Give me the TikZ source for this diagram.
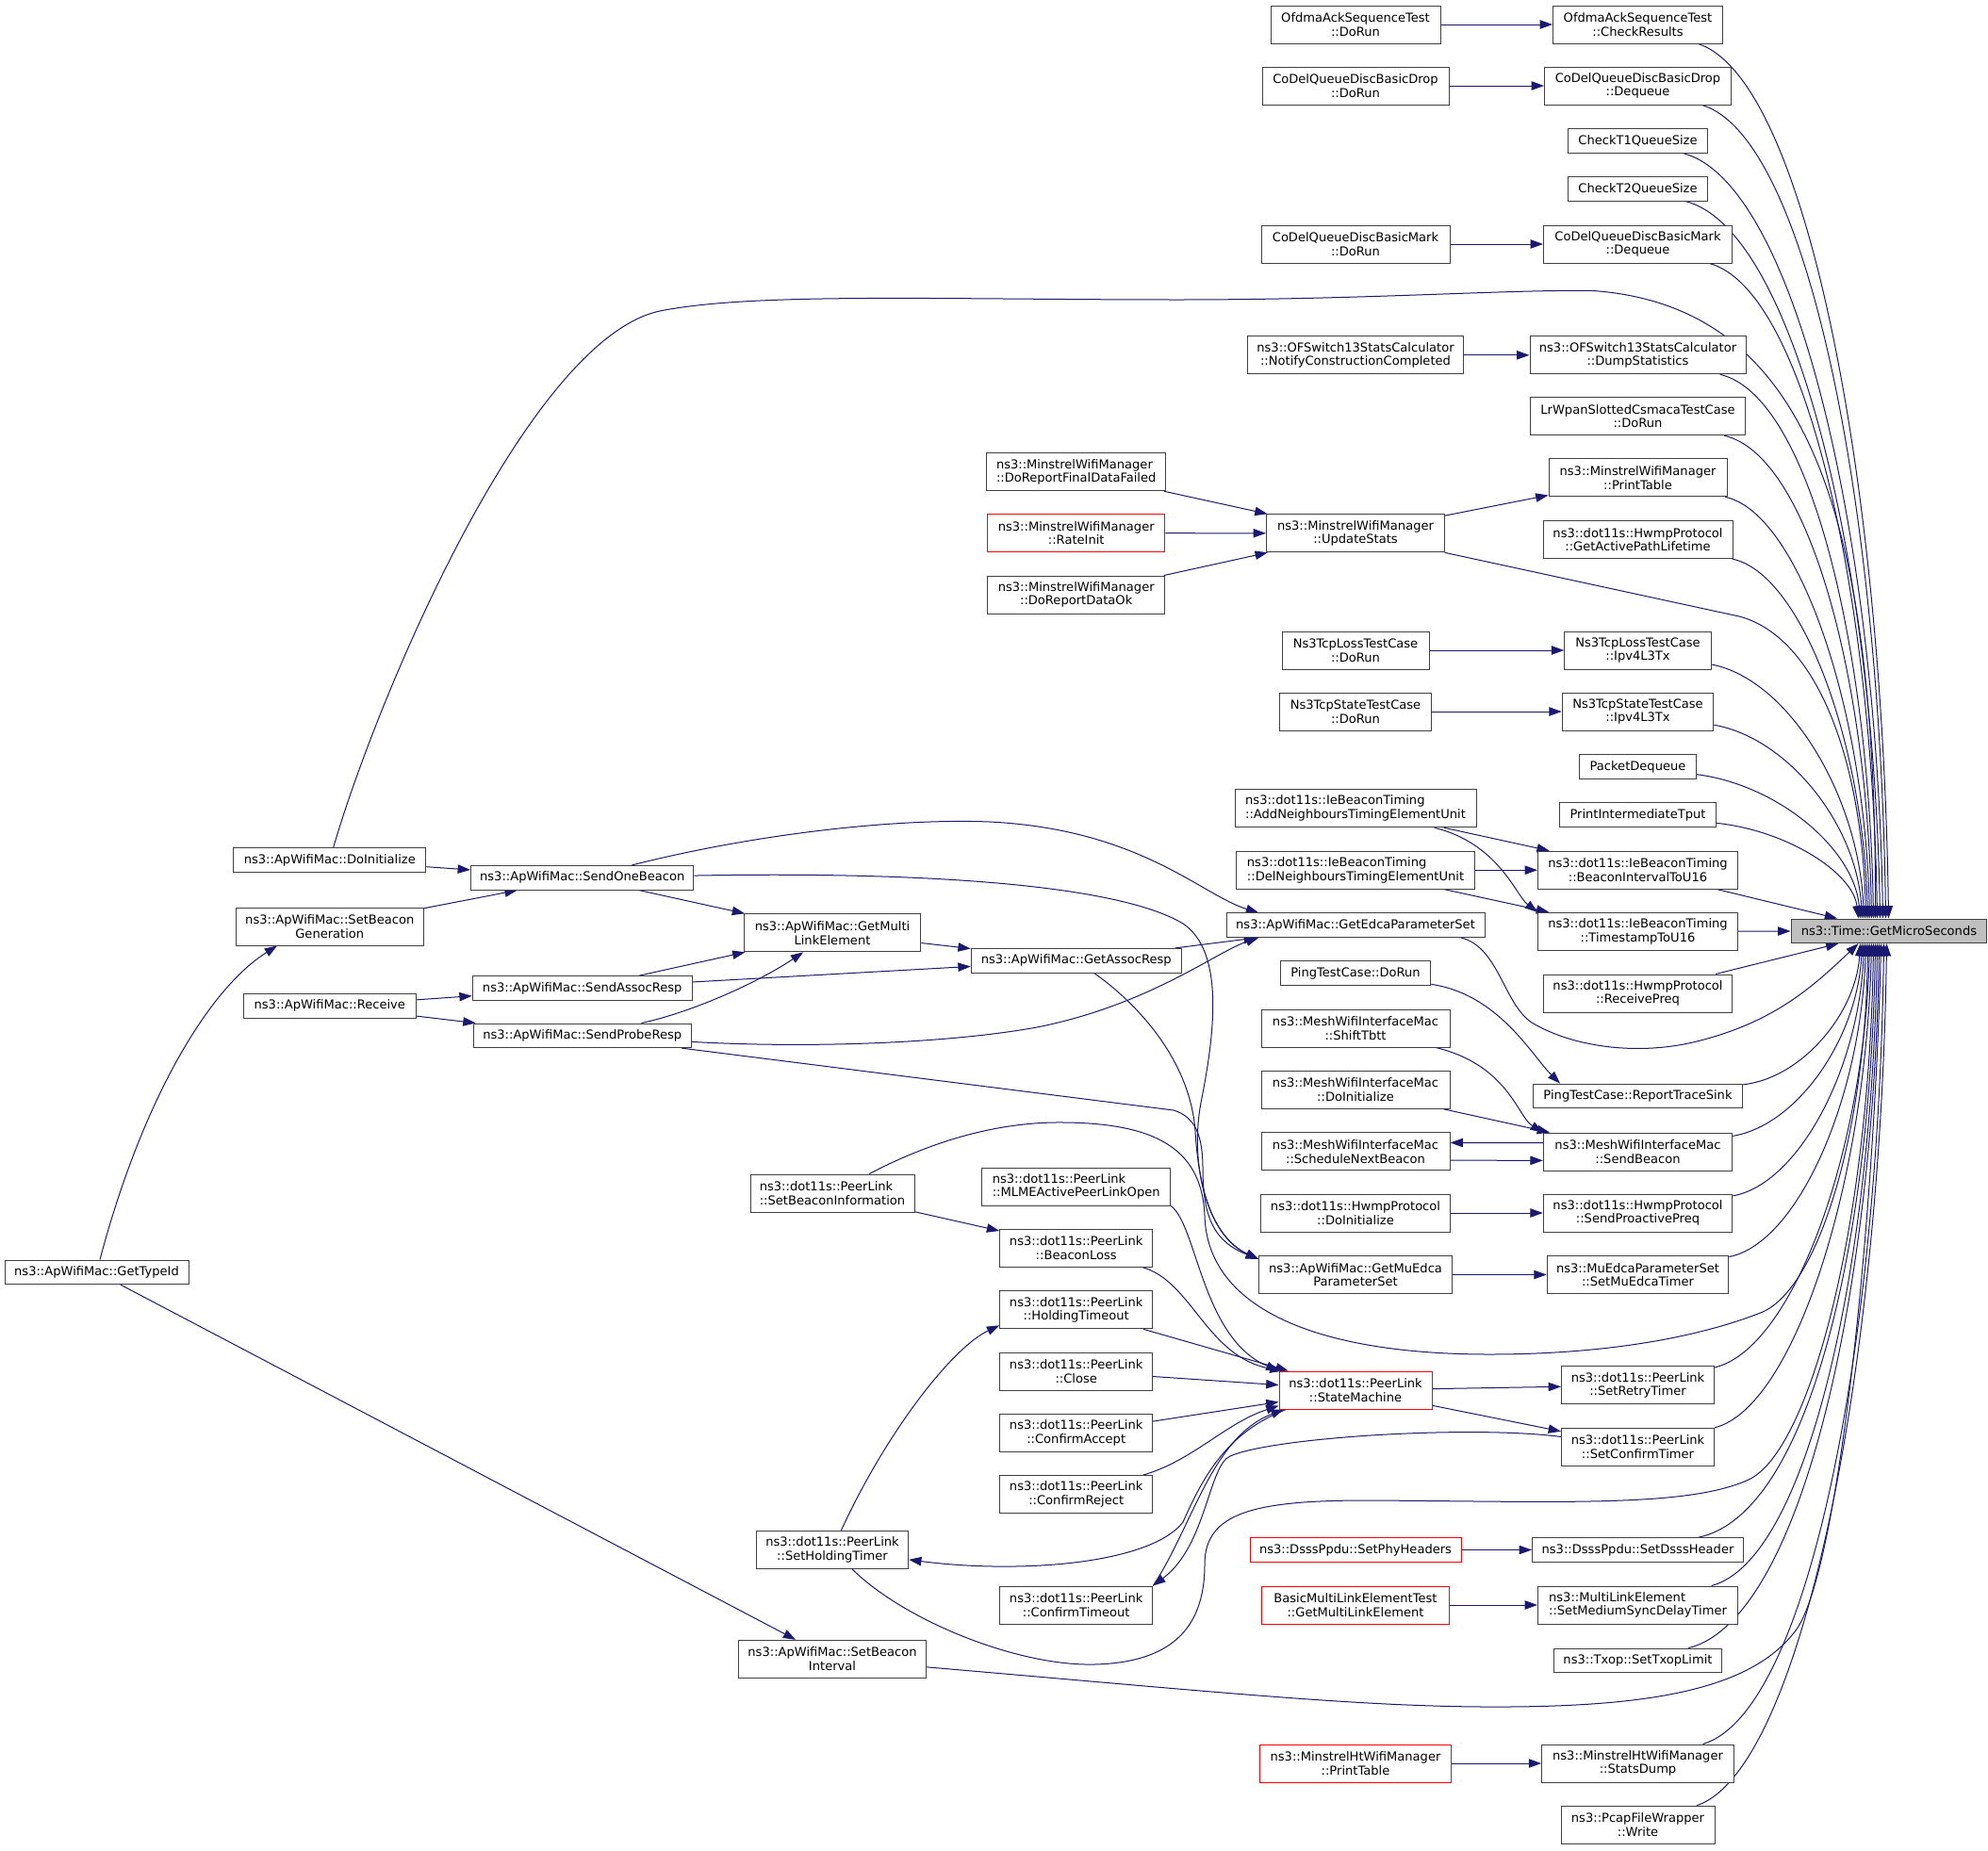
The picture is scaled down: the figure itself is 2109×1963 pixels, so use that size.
\documentclass[tikz,border=0pt]{standalone}
\usepackage{fontspec}
\setmainfont{DejaVu Sans}
\usetikzlibrary{arrows.meta,calc}
\definecolor{edgeblue}{HTML}{191970}
\definecolor{boxgray}{HTML}{404040}
\definecolor{selfill}{HTML}{BFBFBF}
\pgfdeclarelayer{bg}
\pgfsetlayers{bg,main}
\newcommand\fnt{\fontsize{9.8}{11}\selectfont}
\newcommand\fanA[4]{%
 \pgfmathsetmacro\fxe{1900+#4}%
 \pgfmathsetmacro\fca{#2+0.5*(\fxe-#2)}%
 \pgfmathsetmacro\fcb{#3+0.04*(975-#3)}%
 \pgfmathsetmacro\fcc{\fxe-0.04*(\fxe-#2)}%
 \pgfmathsetmacro\fcd{#3+0.5*(975-#3)}%
 \pgfmathsetmacro\fsh{0.75*#4}%
 \draw[edge] (#1) .. controls (\fca,\fcb) and (\fcc,\fcd) .. ([xshift=\fsh pt]T.north west);}
\newcommand\fanB[4]{%
 \pgfmathsetmacro\fxe{1900+#4}%
 \pgfmathsetmacro\fca{#2+0.5*(\fxe-#2)}%
 \pgfmathsetmacro\fcb{#3+0.04*(1000.6-#3)}%
 \pgfmathsetmacro\fcc{\fxe-0.04*(\fxe-#2)}%
 \pgfmathsetmacro\fcd{#3+0.5*(1000.6-#3)}%
 \pgfmathsetmacro\fsh{0.75*#4}%
 \draw[edge] (#1) .. controls (\fca,\fcb) and (\fcc,\fcd) .. ([xshift=\fsh pt]T.south west);}
\tikzset{
 box/.style={draw=boxgray, line width=0.75pt, fill=white, inner xsep=0pt, inner ysep=0pt,
   align=center, font=\fnt, minimum height=30pt},
 one/.style={minimum height=19.2pt},
 bw/.style={minimum width=#1*0.75pt},
 redb/.style={draw=red},
 lft/.style={align=left},
 edge/.style={draw=edgeblue, line width=0.75pt, -{Triangle[length=10pt,width=7pt]}},
}
\begin{document}
\begin{tikzpicture}[x=0.75pt,y=-0.75pt]
\useasboundingbox (0,0) rectangle (2109,1963);
% ---------------- right column
\node[box,bw=180] (R1) at (1737.5,26) {OfdmaAckSequenceTest\\::CheckResults};
\node[box,bw=198] (R2) at (1737.5,91) {CoDelQueueDiscBasicDrop\\::Dequeue};
\node[box,one,bw=147.5] (R3) at (1737.5,149.6) {CheckT1QueueSize};
\node[box,one,bw=147.5] (R4) at (1737.5,200.4) {CheckT2QueueSize};
\node[box,bw=200] (R5) at (1737.5,259) {CoDelQueueDiscBasicMark\\::Dequeue};
\node[box,bw=229] (R6) at (1737.5,376.8) {ns3::OFSwitch13StatsCalculator\\::DumpStatistics};
\node[box,bw=228] (R7) at (1737.5,441.7) {LrWpanSlottedCsmacaTestCase\\::DoRun};
\node[box,bw=189] (R8) at (1737.5,506.8) {ns3::MinstrelWifiManager\\::PrintTable};
\node[box,bw=201] (R9) at (1737.5,572.6) {ns3::dot11s::HwmpProtocol\\::GetActivePathLifetime};
\node[box,bw=155.5] (R10) at (1737.5,690) {Ns3TcpLossTestCase\\::Ipv4L3Tx};
\node[box,bw=160.6] (R11) at (1737.5,755) {Ns3TcpStateTestCase\\::Ipv4L3Tx};
\node[box,one,bw=123.4] (R12) at (1737.5,813.7) {PacketDequeue};
\node[box,one,bw=165.7] (R13) at (1737.5,864.6) {PrintIntermediateTput};
\node[box,bw=212] (R14) at (1737.5,923.2) {ns3::dot11s::IeBeaconTiming\\::BeaconIntervalToU16};
\node[box,bw=212] (R15) at (1737.5,988.3) {ns3::dot11s::IeBeaconTiming\\::TimestampToU16};
\node[box,bw=200.4] (R16) at (1737.5,1054) {ns3::dot11s::HwmpProtocol\\::ReceivePreq};
\node[box,one,bw=222.5] (R17) at (1737.5,1162.9) {PingTestCase::ReportTraceSink};
\node[box,bw=200.4] (R18) at (1737.5,1222) {ns3::MeshWifiInterfaceMac\\::SendBeacon};
\node[box,bw=200.4] (R19) at (1737.5,1287) {ns3::dot11s::HwmpProtocol\\::SendProactivePreq};
\node[box,bw=192.6] (R20) at (1737.5,1352.5) {ns3::MuEdcaParameterSet\\::SetMuEdcaTimer};
\node[box,bw=162] (R21) at (1737.5,1469.9) {ns3::dot11s::PeerLink\\::SetRetryTimer};
\node[box,bw=162] (R22) at (1737.5,1535) {ns3::dot11s::PeerLink\\::SetConfirmTimer};
\node[box,one,bw=224] (R23) at (1737.5,1644.5) {ns3::DsssPpdu::SetDsssHeader};
\node[box,lft,bw=212] (R24) at (1737.5,1703) {ns3::MultiLinkElement\\::SetMediumSyncDelayTimer};
\node[box,one,bw=178.4] (R25) at (1737.5,1761.9) {ns3::Txop::SetTxopLimit};
\node[box,bw=203.7] (R26) at (1737.5,1871) {ns3::MinstrelHtWifiManager\\::StatsDump};
\node[box,bw=163] (R27) at (1737.5,1936.3) {ns3::PcapFileWrapper\\::Write};
\node[box,one,bw=207.8,fill=selfill,draw=boxgray] (T) at (2003.9,987.8) {ns3::Time::GetMicroSeconds};
% ---------------- rank 2
\node[box,bw=180] (L1) at (1438,26) {OfdmaAckSequenceTest\\::DoRun};
\node[box,bw=198] (L2) at (1438,91) {CoDelQueueDiscBasicDrop\\::DoRun};
\node[box,bw=200] (L3) at (1438,259) {CoDelQueueDiscBasicMark\\::DoRun};
\node[box,bw=229] (L4) at (1438,376.8) {ns3::OFSwitch13StatsCalculator\\::NotifyConstructionCompleted};
\node[box,bw=189] (L5) at (1438,565.8) {ns3::MinstrelWifiManager\\::UpdateStats};
\node[box,bw=156] (L6) at (1438,690) {Ns3TcpLossTestCase\\::DoRun};
\node[box,bw=161] (L7) at (1438,755) {Ns3TcpStateTestCase\\::DoRun};
\node[box,lft,bw=256] (L8) at (1438,857.7) {ns3::dot11s::IeBeaconTiming\\::AddNeighboursTimingElementUnit};
\node[box,lft,bw=253] (L9) at (1438,923.2) {ns3::dot11s::IeBeaconTiming\\::DelNeighboursTimingElementUnit};
\node[box,one,bw=274] (L10) at (1438,981.7) {ns3::ApWifiMac::GetEdcaParameterSet};
\node[box,one,bw=159.6] (L11) at (1438,1032.5) {PingTestCase::DoRun};
\node[box,bw=200] (L12) at (1438,1091) {ns3::MeshWifiInterfaceMac\\::ShiftTbtt};
\node[box,bw=200] (L13) at (1438,1156.3) {ns3::MeshWifiInterfaceMac\\::DoInitialize};
\node[box,bw=200] (L14) at (1438,1221.8) {ns3::MeshWifiInterfaceMac\\::ScheduleNextBeacon};
\node[box,bw=201] (L15) at (1438,1287) {ns3::dot11s::HwmpProtocol\\::DoInitialize};
\node[box,bw=205] (L16) at (1438,1352.5) {ns3::ApWifiMac::GetMuEdca\\ParameterSet};
\node[box,redb,bw=162] (SM) at (1438,1475) {ns3::dot11s::PeerLink\\::StateMachine};
\node[box,one,redb,bw=224] (L18) at (1438,1644.5) {ns3::DsssPpdu::SetPhyHeaders};
\node[box,redb,bw=198.4] (L19) at (1438,1703) {BasicMultiLinkElementTest\\::GetMultiLinkElement};
\node[box,redb,bw=203.6] (L20) at (1438,1871) {ns3::MinstrelHtWifiManager\\::PrintTable};
% ---------------- rank 3
\node[box,lft,bw=190.5] (M1) at (1141.7,500.8) {ns3::MinstrelWifiManager\\::DoReportFinalDataFailed};
\node[box,redb,bw=188.3] (M2) at (1141.7,565.7) {ns3::MinstrelWifiManager\\::RateInit};
\node[box,bw=188.3] (M3) at (1141.7,631) {ns3::MinstrelWifiManager\\::DoReportDataOk};
\node[box,one,bw=223] (M4) at (1141.7,1019.2) {ns3::ApWifiMac::GetAssocResp};
\node[box,lft,bw=200] (M5) at (1141.7,1259) {ns3::dot11s::PeerLink\\::MLMEActivePeerLinkOpen};
\node[box,bw=162] (M6) at (1141.7,1324.3) {ns3::dot11s::PeerLink\\::BeaconLoss};
\node[box,bw=162] (M7) at (1141.7,1389.8) {ns3::dot11s::PeerLink\\::HoldingTimeout};
\node[box,bw=162] (M8) at (1141.7,1455) {ns3::dot11s::PeerLink\\::Close};
\node[box,bw=162] (M9) at (1141.7,1520.6) {ns3::dot11s::PeerLink\\::ConfirmAccept};
\node[box,bw=162] (M10) at (1141.7,1585.5) {ns3::dot11s::PeerLink\\::ConfirmReject};
\node[box,bw=162] (M11) at (1141.7,1703) {ns3::dot11s::PeerLink\\::ConfirmTimeout};
% ---------------- rank 4
\node[box,bw=187.7] (N1) at (883,989.8) {ns3::ApWifiMac::GetMulti\\LinkElement};
\node[box,lft,bw=174] (N2) at (883,1266) {ns3::dot11s::PeerLink\\::SetBeaconInformation};
\node[box,bw=161.2] (N3) at (883,1644.3) {ns3::dot11s::PeerLink\\::SetHoldingTimer};
\node[box,bw=198.6] (N4) at (883,1760.3) {ns3::ApWifiMac::SetBeacon\\Interval};
% ---------------- rank 5
\node[box,one,bw=236.5] (P1) at (617.7,931.3) {ns3::ApWifiMac::SendOneBeacon};
\node[box,one,bw=233] (P2) at (617.7,1048.5) {ns3::ApWifiMac::SendAssocResp};
\node[box,one,bw=231] (P3) at (617.7,1098.8) {ns3::ApWifiMac::SendProbeResp};
% ---------------- rank 6, 7
\node[box,one,bw=204] (Q1) at (349.8,912.5) {ns3::ApWifiMac::DoInitialize};
\node[box,bw=198.6] (Q2) at (349.8,983) {ns3::ApWifiMac::SetBeacon\\Generation};
\node[box,one,bw=182.5] (Q3) at (349.8,1067.3) {ns3::ApWifiMac::Receive};
\node[box,one,bw=195] (S1) at (102.5,1349.8) {ns3::ApWifiMac::GetTypeId};

\begin{pgfonlayer}{bg}
\fill[white] (0,0) rectangle (2109,1963);
% straight edges
\draw[edge] (L1) -- (R1);
\draw[edge] (L2) -- (R2);
\draw[edge] (L3) -- (R5);
\draw[edge] (L4) -- (R6);
\draw[edge] (M1) -- (L5);
\draw[edge] (M2) -- (L5);
\draw[edge] (M3) -- (L5);
\draw[edge] (L5) -- (R8);
\draw[edge] (L6) -- (R10);
\draw[edge] (L7) -- (R11);
\draw[edge] (L8) -- (R14);
\draw[edge] (L8) .. controls (1590,895) and (1608,950) .. (R15.north west);
\draw[edge] (L9) -- (R14);
\draw[edge] (L9) -- (R15);
\draw[edge] (R14) -- (T);
\draw[edge] (R15) -- (T);
\draw[edge] (R16) -- (T);
\draw[edge] (L11) .. controls (1590,1055) and (1625,1120) .. ([xshift=22pt]R17.north west);
\draw[edge] (L12) .. controls (1600,1130) and (1610,1185) .. (R18.north west);
\draw[edge] (L13) -- (R18);
\draw[edge] ([yshift=7pt]R18.west) -- ([yshift=7pt]L14.east);
\draw[edge] ([yshift=-7pt]L14.east) -- ([yshift=-7pt]R18.west);
\draw[edge] (L15) -- (R19);
\draw[edge] (L16) -- (R20);
\draw[edge] (SM) -- (R21);
\draw[edge] (SM) -- (R22);
\draw[edge] (L18) -- (R23);
\draw[edge] (L19) -- (R24);
\draw[edge] (L20) -- (R26);
% fan into T
\fanA{R1}{1827.6}{46}{104}
\fanA{R2}{1837}{111}{101}
\fanA{R3}{1811}{162.5}{98}
\fanA{R4}{1811}{213}{95}
\fanA{R5}{1837.5}{279}{92}
\fanA{R6}{1851.8}{396.5}{88}
\fanA{R7}{1851}{461.7}{86}
\fanA{R8}{1832}{526.5}{84}
\fanA{R9}{1838}{592.6}{82}
\fanA{R10}{1815.5}{710}{78}
\fanA{R11}{1817.6}{775}{76}
\fanA{R12}{1799}{826.8}{74}
\fanA{R13}{1820.4}{877.3}{72}
\fanB{R17}{1848.5}{1150}{74}
\fanB{R18}{1838}{1202}{76}
\fanB{R19}{1838}{1267}{78}
\fanB{R20}{1833.6}{1332.6}{80}
\fanB{R21}{1818}{1449.7}{84}
\fanB{R22}{1818}{1514.8}{86}
\fanB{R23}{1849.6}{1632}{90}
\fanB{R24}{1843.5}{1683}{92}
\fanB{R25}{1827}{1749}{94}
\fanB{R26}{1839.7}{1851}{99}
\fanB{R27}{1818.8}{1916}{102}
% long edges into T
\draw[edge] (L5) -- (1845,654) .. controls (1925,675) and (1975,800) .. ([xshift=60pt]T.north west);
\draw[edge] (Q1) .. controls (400,740) and (560,360) .. (700,330) .. controls (800,310) and (1000,318) .. (1250,318) .. controls (1450,318) and (1600,307) .. (1690,308.5) .. controls (1920,325) and (1990,550) .. ([xshift=67.5pt]T.north west);
\draw[edge] ([xshift=-19pt]L10.south east) .. controls (1590,1005) and (1595,1065) .. (1625,1085) .. controls (1670,1112) and (1740,1120) .. (1800,1105) .. controls (1880,1085) and (1920,1050) .. ([xshift=54pt]T.south west);
\draw[edge] (N2) .. controls (990,1210) and (1060,1190) .. (1129,1191) .. controls (1220,1192) and (1275,1215) .. (1278,1290) .. controls (1281,1390) and (1400,1437) .. (1580,1437) .. controls (1700,1437) and (1800,1420) .. (1870,1392) .. controls (1930,1365) and (1979,1200) .. ([xshift=61.5pt]T.south west);
\draw[edge] (N3) .. controls (960,1720) and (1080,1768) .. (1161,1766) .. controls (1240,1764) and (1278,1730) .. (1278,1660) .. controls (1278,1605) and (1330,1592) .. (1450,1592) .. controls (1650,1593) and (1790,1600) .. (1855,1570) .. controls (1920,1540) and (1983,1300) .. ([xshift=66pt]T.south west);
\draw[edge] (N4) .. controls (1300,1796) and (1450,1812) .. (1600,1811) .. controls (1760,1810) and (1860,1790) .. (1905,1730) .. controls (1950,1670) and (1988,1300) .. ([xshift=72pt]T.south west);
% left part
\draw[edge] (S1) .. controls (150,1170) and (220,1050) .. ([xshift=33pt]Q2.south west);
\draw[edge] (S1) -- (N4);
\draw[edge] (Q1) -- (P1);
\draw[edge] (Q2) -- (P1);
\draw[edge] (Q3) -- (P2);
\draw[edge] (Q3) -- (P3);
\draw[edge] (P1) -- (N1);
\draw[edge] (P2) -- (N1);
\draw[edge] (P3) .. controls (730,1075) and (800,1045) .. (N1);
\draw[edge] (P2) -- (M4);
\draw[edge] (N1) -- (M4);
\draw[edge] (M4) -- (L10);
\draw[edge] (P1) .. controls (800,885) and (950,868) .. (1050,872) .. controls (1210,880) and (1275,950) .. ([xshift=26pt]L10.north west);
\draw[edge] (P3) .. controls (850,1112) and (1000,1108) .. (1100,1090) .. controls (1220,1066) and (1290,1010) .. ([xshift=26pt]L10.south west);
\draw[edge] (P1) .. controls (950,925) and (1180,935) .. (1255,980) .. controls (1300,1010) and (1288,1100) .. (1274,1170) .. controls (1262,1235) and (1280,1310) .. ([yshift=-3pt]L16.north west);
\draw[edge] (P3) -- (1245,1178) .. controls (1268,1185) and (1276,1205) .. (1276,1240) .. controls (1276,1295) and (1290,1318) .. ([yshift=-3pt]L16.north west);
\draw[edge] (M4) .. controls (1200,1060) and (1262,1120) .. (1268,1200) .. controls (1272,1270) and (1290,1315) .. ([yshift=-3pt]L16.north west);
% peer link area
\draw[edge] (N2) -- (M6);
\draw[edge] (M5.south east) .. controls (1270,1300) and (1275,1420) .. (SM.north west);
\draw[edge] (M6) .. controls (1265,1360) and (1280,1440) .. ([xshift=3pt]SM.north west);
\draw[edge] (M7) -- (SM);
\draw[edge] (M8) -- (SM);
\draw[edge] (M9) -- (SM);
\draw[edge] (M10) .. controls (1265,1550) and (1300,1510) .. ([yshift=3pt]SM.south west);
\draw[edge] (M11.north east) .. controls (1265,1620) and (1285,1525) .. ([xshift=4pt]SM.south west);
\draw[edge] ([xshift=6pt]SM.south west) .. controls (1300,1520) and (1275,1570) .. (1255,1615) .. controls (1220,1660) and (1080,1670) .. (N3);
\draw[edge] (R22) .. controls (1560,1512) and (1350,1525) .. (1305,1545) .. controls (1282,1555) and (1280,1640) .. (M11.north east);
\draw[edge] (N3) .. controls (940,1520) and (1010,1430) .. ([yshift=3pt]M7.south west);
\end{pgfonlayer}
\end{tikzpicture}
\end{document}
